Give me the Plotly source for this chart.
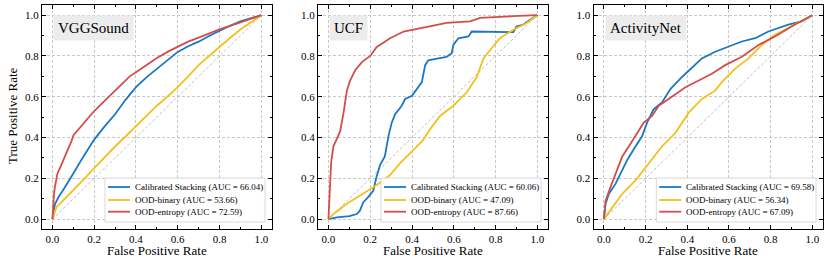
import plotly.graph_objects as go

# ---------------- data ----------------
panel_titles = ["VGGSound", "UCF", "ActivityNet"]
series_names = ["Calibrated Stacking", "OOD-binary", "OOD-entropy"]
auc_values = [[66.04, 53.66, 72.59], [60.06, 47.09, 87.66], [69.58, 56.34, 67.09]]
tick_values = [0.0, 0.2, 0.4, 0.6, 0.8, 1.0]
diag_x = [0.0, 1.0]
diag_y = [0.0, 1.0]

# VGGSound
vgg_cal_fpr = [0, 0.005, 0.013, 0.03, 0.05, 0.075, 0.1, 0.15, 0.2, 0.25, 0.3, 0.35, 0.4, 0.45, 0.5, 0.55, 0.6, 0.65, 0.7, 0.75, 0.8, 0.85, 0.9, 0.95, 1.0]
vgg_cal_tpr = [0, 0.04, 0.075, 0.11, 0.14, 0.18, 0.224, 0.31, 0.39, 0.455, 0.514, 0.585, 0.647, 0.695, 0.738, 0.78, 0.82, 0.848, 0.87, 0.898, 0.924, 0.948, 0.97, 0.985, 1.0]
vgg_bin_fpr = [0, 0.01, 0.02, 0.05, 0.1, 0.15, 0.2, 0.25, 0.3, 0.35, 0.4, 0.45, 0.5, 0.55, 0.6, 0.65, 0.7, 0.75, 0.8, 0.85, 0.9, 0.95, 1.0]
vgg_bin_tpr = [0, 0.035, 0.06, 0.09, 0.14, 0.195, 0.25, 0.305, 0.356, 0.405, 0.456, 0.505, 0.556, 0.6, 0.647, 0.7, 0.755, 0.8, 0.846, 0.888, 0.93, 0.965, 1.0]
vgg_ent_fpr = [0, 0.004, 0.008, 0.013, 0.024, 0.04, 0.053, 0.07, 0.092, 0.1, 0.13, 0.165, 0.2, 0.24, 0.275, 0.32, 0.37, 0.4, 0.45, 0.5, 0.56, 0.6, 0.65, 0.7, 0.8, 0.9, 1.0]
vgg_ent_tpr = [0, 0.08, 0.13, 0.165, 0.224, 0.26, 0.29, 0.33, 0.385, 0.41, 0.445, 0.49, 0.53, 0.57, 0.605, 0.65, 0.7, 0.72, 0.755, 0.79, 0.825, 0.845, 0.87, 0.89, 0.93, 0.965, 1.0]

# UCF
ucf_cal_fpr = [0, 0.04, 0.1, 0.136, 0.15, 0.167, 0.19, 0.215, 0.23, 0.247, 0.27, 0.287, 0.303, 0.319, 0.351, 0.367, 0.4, 0.423, 0.447, 0.463, 0.478, 0.526, 0.566, 0.59, 0.598, 0.622, 0.67, 0.686, 0.742, 0.885, 0.9, 0.933, 0.965, 1.0]
ucf_cal_tpr = [0, 0.008, 0.015, 0.025, 0.04, 0.083, 0.108, 0.14, 0.207, 0.265, 0.307, 0.406, 0.473, 0.514, 0.556, 0.589, 0.605, 0.638, 0.672, 0.755, 0.779, 0.788, 0.796, 0.813, 0.854, 0.887, 0.896, 0.92, 0.92, 0.917, 0.945, 0.954, 0.978, 1.0]
ucf_bin_fpr = [0, 0.024, 0.088, 0.167, 0.23, 0.295, 0.343, 0.407, 0.455, 0.486, 0.534, 0.598, 0.662, 0.71, 0.742, 0.774, 0.821, 0.885, 0.949, 1.0]
ucf_bin_tpr = [0, 0.025, 0.075, 0.124, 0.166, 0.216, 0.274, 0.34, 0.39, 0.44, 0.506, 0.556, 0.622, 0.697, 0.788, 0.829, 0.887, 0.929, 0.962, 1.0]
ucf_ent_fpr = [0, 0.004, 0.008, 0.013, 0.024, 0.04, 0.056, 0.072, 0.088, 0.104, 0.128, 0.16, 0.2, 0.23, 0.295, 0.36, 0.44, 0.566, 0.678, 0.726, 0.885, 1.0]
ucf_ent_tpr = [0, 0.08, 0.158, 0.28, 0.357, 0.39, 0.43, 0.52, 0.63, 0.68, 0.73, 0.77, 0.80, 0.843, 0.887, 0.92, 0.937, 0.962, 0.97, 0.987, 0.995, 1.0]

# ActivityNet
act_cal_fpr = [0, 0.008, 0.024, 0.056, 0.088, 0.112, 0.152, 0.183, 0.207, 0.239, 0.279, 0.319, 0.375, 0.439, 0.47, 0.534, 0.598, 0.662, 0.726, 0.789, 0.885, 0.949, 1.0]
act_cal_tpr = [0, 0.075, 0.124, 0.174, 0.24, 0.29, 0.357, 0.406, 0.473, 0.539, 0.572, 0.638, 0.697, 0.755, 0.788, 0.821, 0.846, 0.871, 0.887, 0.92, 0.954, 0.97, 1.0]
act_bin_fpr = [0, 0.04, 0.088, 0.152, 0.215, 0.279, 0.343, 0.407, 0.47, 0.534, 0.566, 0.63, 0.694, 0.758, 0.821, 0.885, 0.949, 1.0]
act_bin_tpr = [0, 0.058, 0.124, 0.19, 0.274, 0.357, 0.423, 0.522, 0.589, 0.63, 0.672, 0.738, 0.788, 0.854, 0.904, 0.937, 0.97, 1.0]
act_ent_fpr = [0, 0.008, 0.032, 0.056, 0.088, 0.12, 0.16, 0.191, 0.231, 0.263, 0.311, 0.391, 0.455, 0.518, 0.582, 0.662, 0.742, 0.821, 0.917, 1.0]
act_ent_tpr = [0, 0.09, 0.158, 0.224, 0.307, 0.357, 0.423, 0.473, 0.506, 0.556, 0.589, 0.647, 0.68, 0.713, 0.755, 0.796, 0.854, 0.896, 0.954, 1.0]

curves = [
    [(vgg_cal_fpr, vgg_cal_tpr), (vgg_bin_fpr, vgg_bin_tpr), (vgg_ent_fpr, vgg_ent_tpr)],
    [(ucf_cal_fpr, ucf_cal_tpr), (ucf_bin_fpr, ucf_bin_tpr), (ucf_ent_fpr, ucf_ent_tpr)],
    [(act_cal_fpr, act_cal_tpr), (act_bin_fpr, act_bin_tpr), (act_ent_fpr, act_ent_tpr)],
]

# ---------------- style ----------------
colors = ["#1b76c5", "#f2c11c", "#d24e4b"]
FONT = "Liberation Serif"
W, H = 830, 264
x_px = [(42, 271.7), (318, 547.8), (593.5, 822.7)]
y_px = (5, 229.3)

# legend geometry, as fractions of each axes box
leg_box = dict(x0=0.274, x1=0.971, y0=0.0325, y1=0.2287)
leg_line_x = (0.287, 0.383)
leg_text_x = 0.396
leg_rows_y = [0.1886, 0.1306, 0.0785]

fig = go.Figure()

for p in range(3):
    xa = "x" if p == 0 else f"x{p+1}"
    ya = "y" if p == 0 else f"y{p+1}"
    fig.add_trace(go.Scatter(x=diag_x, y=diag_y, mode="lines", xaxis=xa, yaxis=ya,
                             line=dict(color="#b0b0b0", width=0.8, dash="3px,2px"),
                             showlegend=False, hoverinfo="skip"))
    for s in range(3):
        fx, ty = curves[p][s]
        fig.add_trace(go.Scatter(
            x=fx, y=ty, mode="lines", xaxis=xa, yaxis=ya,
            name=f"{series_names[s]} (AUC = {auc_values[p][s]:.2f})",
            line=dict(color=colors[s], width=1.8),
            showlegend=False))

axis_common = dict(
    range=[-0.05, 1.05], tickvals=tick_values, tickformat=".1f",
    ticks="inside", ticklen=4, tickwidth=1, tickcolor="black",
    minor=dict(dtick=0.1, ticks="inside", ticklen=2, tickcolor="black", showgrid=False),
    showline=True, linecolor="black", linewidth=1, mirror="allticks",
    showgrid=True, gridcolor="#c8c8c8", griddash="3px,2px", gridwidth=0.8,
    zeroline=False, automargin=False,
    tickfont=dict(family=FONT, size=11, color="black"),
)

layout = dict(
    width=W, height=H, margin=dict(l=0, r=0, t=0, b=0),
    paper_bgcolor="white", plot_bgcolor="white",
    font=dict(family=FONT, color="black"),
)
yd = [1 - y_px[1] / H, 1 - y_px[0] / H]
for p in range(3):
    sx = "" if p == 0 else str(p + 1)
    xd = [x_px[p][0] / W, x_px[p][1] / W]
    layout[f"xaxis{sx}"] = dict(axis_common, domain=xd, anchor=f"y{sx}", ticklabelstandoff=-1)
    layout[f"yaxis{sx}"] = dict(axis_common, domain=yd, anchor=f"x{sx}")
fig.update_layout(**layout)

annotations = []
shapes = []
for p in range(3):
    sx = "" if p == 0 else str(p + 1)
    xr, yr = f"x{sx} domain", f"y{sx} domain"
    annotations.append(dict(
        text=panel_titles[p], x=0.0, y=1.0, xref=f"x{sx}", yref=f"y{sx}",
        xanchor="left", yanchor="top", xshift=1, showarrow=False,
        bgcolor="#ececec", borderpad=4,
        font=dict(family=FONT, size=15, color="black")))
    annotations.append(dict(
        text="False Positive Rate", x=0.5, xref=xr,
        y=1 - 250 / H, yref="paper", xanchor="center", yanchor="middle",
        showarrow=False, font=dict(family=FONT, size=13, color="black")))
    # legend (box, line samples, labels)
    shapes.append(dict(type="rect", xref=xr, yref=yr, layer="above",
                       x0=leg_box["x0"], x1=leg_box["x1"], y0=leg_box["y0"], y1=leg_box["y1"],
                       fillcolor="rgba(255,255,255,0.9)", line=dict(color="#d0d0d0", width=0.8)))
    for s in range(3):
        shapes.append(dict(type="line", xref=xr, yref=yr, layer="above",
                           x0=leg_line_x[0], x1=leg_line_x[1], y0=leg_rows_y[s], y1=leg_rows_y[s],
                           line=dict(color=colors[s], width=1.8)))
        annotations.append(dict(
            text=f"{series_names[s]} (AUC = {auc_values[p][s]:.2f})",
            x=leg_text_x, y=leg_rows_y[s], xref=xr, yref=yr,
            xanchor="left", yanchor="middle", showarrow=False,
            font=dict(family=FONT, size=9, color="black")))
annotations.append(dict(
    text="True Positive Rate", x=12 / W, y=1 - 116 / H, xref="paper", yref="paper",
    xanchor="center", yanchor="middle", textangle=-90, showarrow=False,
    font=dict(family=FONT, size=13, color="black")))
fig.update_layout(annotations=annotations, shapes=shapes)

fig.write_html("out.html", config={"displayModeBar": False},
               post_script="document.body.style.margin='0';")
